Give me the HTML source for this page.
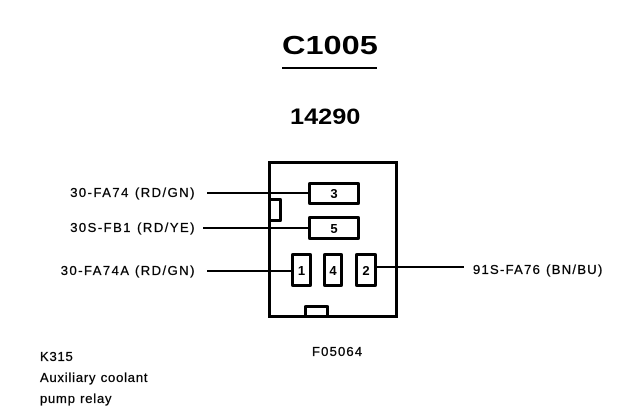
<!DOCTYPE html>
<html><head><style>
body{margin:0;width:640px;height:416px;background:#fff;position:relative;overflow:hidden;font-family:"Liberation Sans",Arial,sans-serif;color:#000}
.a{position:absolute;white-space:nowrap}
.t{font-size:13px;letter-spacing:0.8px;-webkit-text-stroke:0.3px #000}
.b{position:absolute;border:3px solid #000;box-sizing:border-box;border-radius:2px;font-weight:bold;font-size:13px;display:flex;align-items:center;justify-content:center}
.l{position:absolute;height:2px;background:#000}
</style></head><body>
<div class="a" style="left:282px;top:30px;font-size:26px;font-weight:bold;transform:scaleX(1.25);transform-origin:left">C1005</div>
<div class="l" style="left:282px;top:67px;width:95px"></div>
<div class="a" style="left:290px;top:104px;font-size:22px;font-weight:bold;transform:scaleX(1.15);transform-origin:left">14290</div>
<div style="position:absolute;left:268px;top:161px;width:130px;height:157px;border:3px solid #000;box-sizing:border-box"></div>
<div class="b" style="left:308px;top:182px;width:52px;height:23px">3</div>
<div class="b" style="left:308px;top:216px;width:52px;height:24px">5</div>
<div class="b" style="left:291px;top:253px;width:21px;height:34px">1</div>
<div class="b" style="left:323px;top:253px;width:20px;height:34px">4</div>
<div class="b" style="left:355px;top:253px;width:22px;height:34px">2</div>
<div class="b" style="left:269px;top:198px;width:13px;height:24px;border-left:none"></div>
<div class="b" style="left:304px;top:305px;width:25px;height:13px;border-bottom:none"></div>
<div class="l" style="left:207px;top:192px;width:101px"></div>
<div class="l" style="left:203px;top:227px;width:105px"></div>
<div class="l" style="left:207px;top:270px;width:84px"></div>
<div class="l" style="left:377px;top:266px;width:87px"></div>
<div class="a t" style="right:444px;top:185px;letter-spacing:1.5px">30-FA74 (RD/GN)</div>
<div class="a t" style="right:444px;top:220px;letter-spacing:1.5px">30S-FB1 (RD/YE)</div>
<div class="a t" style="right:444px;top:263px;letter-spacing:1.5px">30-FA74A (RD/GN)</div>
<div class="a t" style="left:473px;top:262px;letter-spacing:1.3px">91S-FA76 (BN/BU)</div>
<div class="a t" style="left:312px;top:344px;letter-spacing:1.2px">F05064</div>
<div class="a t" style="left:40px;top:346px;line-height:21px">K315<br>Auxiliary coolant<br>pump relay</div>
</body></html>
